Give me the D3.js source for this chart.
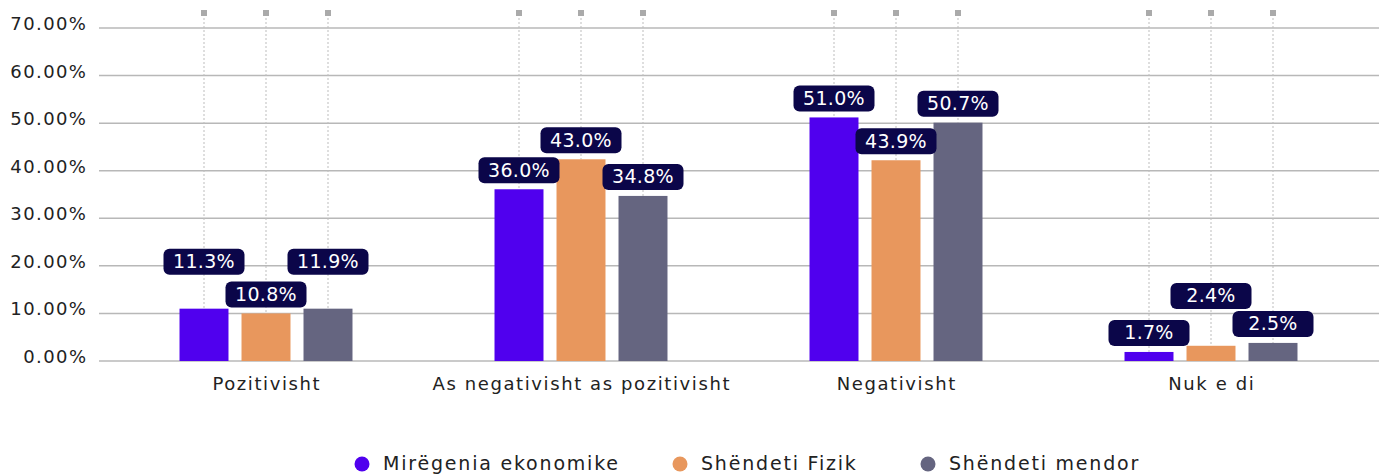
<!DOCTYPE html>
<html>
<head>
<meta charset="utf-8">
<script src="https://cdn.jsdelivr.net/npm/d3@7"></script>
<style>
  body { margin: 0; background: #fff; }
  text { font-family: "DejaVu Sans", sans-serif; }
</style>
</head>
<body>
<script>
// chart data
var categories = ["Pozitivisht", "As negativisht as pozitivisht", "Negativisht", "Nuk e di"];
var series = ["Mirëgenia ekonomike", "Shëndeti Fizik", "Shëndeti mendor"];
var colors = ["#5000EE", "#E8975D", "#656580"];
// bar heights as drawn (in %)
var economic = [11.0, 36.1, 51.2, 1.9];
var physical = [10.0, 42.4, 42.2, 3.2];
var mental = [11.0, 34.7, 50.1, 3.8];
// label texts shown on the bars
var economicLabels = ["11.3%", "36.0%", "51.0%", "1.7%"];
var physicalLabels = ["10.8%", "43.0%", "43.9%", "2.4%"];
var mentalLabels = ["11.9%", "34.8%", "50.7%", "2.5%"];
var yTicks = [0, 10, 20, 30, 40, 50, 60, 70];

var values = [economic, physical, mental];
var labels = [economicLabels, physicalLabels, mentalLabels];

var width = 1384, height = 474;

var svg = d3.select("body").append("svg")
    .attr("width", width)
    .attr("height", height);

var x = d3.scaleBand()
    .domain(categories)
    .range([108.5, 1368.5]);

var xs = d3.scaleBand()
    .domain(series)
    .range([-93, 93])
    .paddingInner(0.21)
    .paddingOuter(0.105);

var y = d3.scaleLinear()
    .domain([0, 70])
    .range([361, 28]);

// gridlines
svg.append("g")
    .selectAll("line")
    .data(yTicks)
    .enter().append("line")
    .attr("x1", 99)
    .attr("x2", 1379)
    .attr("y1", function(d) { return y(d); })
    .attr("y2", function(d) { return y(d); })
    .attr("stroke", "#b8b8b8")
    .attr("stroke-width", 1.5);

// y labels
svg.append("g")
    .selectAll("text")
    .data(yTicks)
    .enter().append("text")
    .attr("x", 87.4)
    .attr("y", function(d) { return y(d) - 3; })
    .attr("text-anchor", "end")
    .attr("dominant-baseline", "middle")
    .attr("font-size", 18)
    .attr("letter-spacing", 1.4)
    .attr("fill", "#222")
    .text(function(d) { return d3.format(".2f")(d) + "%"; });

// flatten bars
var bars = [];
categories.forEach(function(c, ci) {
  series.forEach(function(s, si) {
    bars.push({cat: c, ser: s, si: si, value: values[si][ci], label: labels[si][ci],
      cx: x(c) + x.bandwidth() / 2 + xs(s) + xs.bandwidth() / 2});
  });
});

// dotted leader lines + top squares
svg.append("g")
    .selectAll("line")
    .data(bars)
    .enter().append("line")
    .attr("x1", function(d) { return d.cx; })
    .attr("x2", function(d) { return d.cx; })
    .attr("y1", 14)
    .attr("y2", function(d) { return y(d.value); })
    .attr("stroke", "#bdbdbd")
    .attr("stroke-width", 1)
    .attr("stroke-dasharray", "2,2");

svg.append("g")
    .selectAll("rect")
    .data(bars)
    .enter().append("rect")
    .attr("x", function(d) { return d.cx - 3; })
    .attr("y", 10)
    .attr("width", 6)
    .attr("height", 6)
    .attr("fill", "#aaaaaa");

// bars
svg.append("g")
    .selectAll("rect")
    .data(bars)
    .enter().append("rect")
    .attr("x", function(d) { return d.cx - xs.bandwidth() / 2; })
    .attr("y", function(d) { return y(d.value); })
    .attr("width", xs.bandwidth())
    .attr("height", function(d) { return y(0) - y(d.value); })
    .attr("fill", function(d) { return colors[d.si]; });

// label placement: lowest bar stays, overlapping ones are lifted
var boxW = 81, boxH = 26, gap = 6;
bars.forEach(function(d) {
  d.bottom = y(d.value) - gap;
  d.top = d.bottom - boxH;
});
function overlaps(a, b) {
  return Math.abs(a.cx - b.cx) < boxW && a.top < b.bottom && b.top < a.bottom;
}
categories.forEach(function(c) {
  var group = bars.filter(function(d) { return d.cat == c; });
  var natural = group.map(function(d) { return {cx: d.cx, top: d.top, bottom: d.bottom}; });
  var order = group.slice().sort(function(a, b) { return a.value - b.value; });
  var fixed = [];
  order.forEach(function(d) {
    var hit = fixed.some(function(f) { return overlaps(d, f); });
    if (hit) {
      var minTop = d.top;
      group.forEach(function(o, i) {
        if (o !== d && overlaps(d, natural[i])) minTop = Math.min(minTop, natural[i].top);
      });
      d.bottom = minTop - 2;
      d.top = d.bottom - boxH;
    }
    fixed.push(d);
  });
});

var lbl = svg.append("g")
    .selectAll("g")
    .data(bars)
    .enter().append("g");

lbl.append("rect")
    .attr("x", function(d) { return d.cx - boxW / 2; })
    .attr("y", function(d) { return d.top; })
    .attr("width", boxW)
    .attr("height", boxH)
    .attr("rx", 6)
    .attr("fill", "#0B0649");

lbl.append("text")
    .attr("x", function(d) { return d.cx; })
    .attr("y", function(d) { return d.top + boxH / 2 + 1; })
    .attr("text-anchor", "middle")
    .attr("dominant-baseline", "middle")
    .attr("font-size", 19)
    .attr("letter-spacing", 0.3)
    .attr("fill", "#fff")
    .text(function(d) { return d.label; });

// x labels
svg.append("g")
    .selectAll("text")
    .data(categories)
    .enter().append("text")
    .attr("x", function(d) { return x(d) + x.bandwidth() / 2 + 0.8; })
    .attr("y", 385)
    .attr("text-anchor", "middle")
    .attr("dominant-baseline", "middle")
    .attr("font-size", 18)
    .attr("letter-spacing", 1.6)
    .attr("fill", "#222")
    .text(function(d) { return d; });

// legend
var legendX = [362, 680, 928];
var legend = svg.append("g")
    .selectAll("g")
    .data(series)
    .enter().append("g")
    .attr("transform", function(d, i) { return "translate(" + legendX[i] + ",464)"; });

legend.append("circle")
    .attr("r", 7.5)
    .attr("fill", function(d, i) { return colors[i]; });

legend.append("text")
    .attr("x", 21)
    .attr("y", 0)
    .attr("dominant-baseline", "middle")
    .attr("font-size", 19)
    .attr("letter-spacing", 1.8)
    .attr("fill", "#222")
    .text(function(d) { return d; });
</script>
</body>
</html>
